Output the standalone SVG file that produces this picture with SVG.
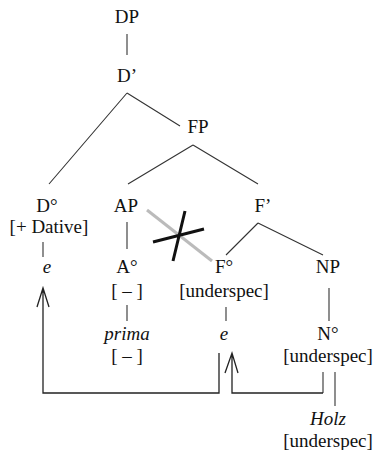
<svg xmlns="http://www.w3.org/2000/svg" width="376" height="450" viewBox="0 0 376 450">
<style>
text{font-family:"Liberation Serif","Times New Roman",serif;font-size:19px;fill:#111;text-anchor:middle}
.i{font-style:italic}
.l{stroke:#333;stroke-width:1.1;fill:none}
.a{stroke:#222;stroke-width:1.3;fill:none}
</style>
<rect width="376" height="450" fill="#fff"/>
<g id="connectors">
<path class="l" d="M127 34V55"/>
<path class="l" d="M127 93L49 184M127 93L180 126"/>
<path class="l" d="M193 145L128 184M193 145L258 184"/>
<path class="l" d="M258 223L226 255M258 223L323 255"/>
<path class="l" d="M43 242V257M127 222V249M127 305V321M226 307V321M329 288V321"/>
<path class="l" d="M323 372V393M335 372V406"/>
<path class="a" d="M219 353V393H43V288M37 307L43 288L49 307"/>
<path class="a" d="M323 393H232V353M225 373L232 353L238 373"/>
<path stroke="#bbb" stroke-width="3" d="M147 210L212 261"/>
<path stroke="#111" stroke-width="3" d="M153 242L204 229M185 211L173 261"/>
</g>
<g id="DP"><text x="127" y="23">DP</text></g>
<g id="Dbar"><text x="127" y="82">D’</text></g>
<g id="FP"><text x="198" y="133">FP</text></g>
<g id="D0"><text x="47" y="212">D°</text><text x="49" y="233">[+ Dative]</text><text class="i" x="47" y="273">e</text></g>
<g id="AP"><text x="126" y="212">AP</text></g>
<g id="A0"><text x="127" y="273">A°</text><text x="127" y="297">[ – ]</text></g>
<g id="prima"><text class="i" x="127" y="340">prima</text><text x="127" y="362">[ – ]</text></g>
<g id="Fbar"><text x="263" y="212">F’</text></g>
<g id="F0"><text x="224" y="273">F°</text><text x="224" y="297">[underspec]</text><text class="i" x="224" y="340">e</text></g>
<g id="NP"><text x="328" y="273">NP</text></g>
<g id="N0"><text x="328" y="340">N°</text><text x="328" y="362">[underspec]</text></g>
<g id="Holz"><text class="i" x="328" y="425">Holz</text><text x="328" y="447">[underspec]</text></g>
</svg>
